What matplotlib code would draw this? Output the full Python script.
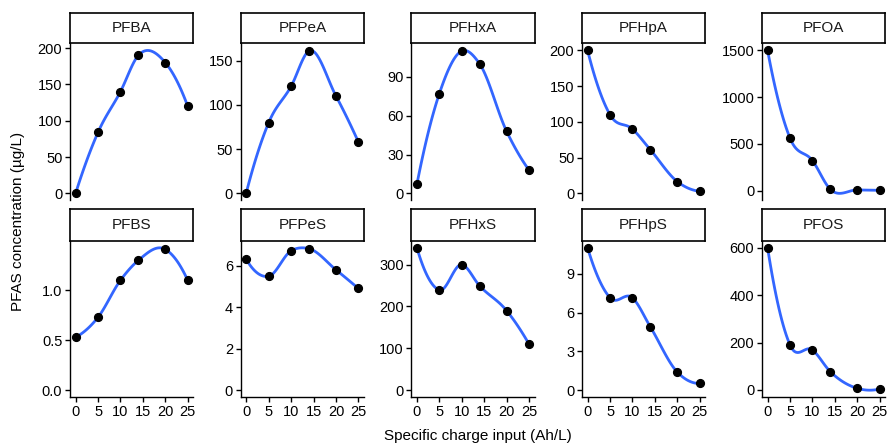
import matplotlib
matplotlib.use("Agg")
import matplotlib.pyplot as plt
import numpy as np

plt.rcParams['font.family'] = ['Liberation Sans', 'DejaVu Sans']

# charge input (Ah/L), same for every compound
charge = [0, 5, 10, 14, 20, 25]

compounds = ["PFBA", "PFPeA", "PFHxA", "PFHpA", "PFOA",
             "PFBS", "PFPeS", "PFHxS", "PFHpS", "PFOS"]

pfba = [0, 84, 140, 190, 180, 120]
pfpea = [0.8, 80, 121, 161, 110, 58]
pfhxa = [7, 77, 110, 100, 48, 18]
pfhpa = [200, 110, 90, 61, 16.5, 3]
pfoa = [1500, 562, 322, 14, 8, 4]
pfbs = [0.53, 0.73, 1.1, 1.3, 1.41, 1.1]
pfpes = [6.31, 5.5, 6.73, 6.83, 5.81, 4.91]
pfhxs = [340, 239, 300, 249, 190, 110]
pfhps = [11.0, 7.14, 7.14, 4.89, 1.4, 0.52]
pfos = [600, 190, 169, 77, 7, 4]

series = [pfba, pfpea, pfhxa, pfhpa, pfoa, pfbs, pfpes, pfhxs, pfhps, pfos]

yticks = [[0, 50, 100, 150, 200], [0, 50, 100, 150], [0, 30, 60, 90],
          [0, 50, 100, 150, 200], [0, 500, 1000, 1500],
          [0.0, 0.5, 1.0], [0, 2, 4, 6], [0, 100, 200, 300],
          [0, 3, 6, 9], [0, 200, 400, 600]]


def local_fit(x, y, x0, span=0.75):
    # weighted local quadratic, tricube weights -> value and slope at x0
    n = len(x)
    q = int(np.floor(n * span))
    d = np.abs(x - x0)
    h = np.sort(d)[q - 1] * 1.0001
    w = np.clip(1 - (d / h) ** 3, 0, None) ** 3
    A = np.vstack([np.ones(n), x - x0, (x - x0) ** 2]).T
    Wm = np.diag(w)
    beta = np.linalg.lstsq(A.T @ Wm @ A, A.T @ Wm @ y, rcond=None)[0]
    return beta[0], beta[1]


def loess(x, y, xs):
    # fit at the vertices, then cubic hermite in between (like loess "interpolate")
    x = np.asarray(x, float)
    y = np.asarray(y, float)
    vx = x.copy()
    vals = np.array([local_fit(x, y, v) for v in vx])
    out = []
    for t in xs:
        k = min(np.searchsorted(vx, t, side='right') - 1, len(vx) - 2)
        x0, x1 = vx[k], vx[k + 1]
        hh = x1 - x0
        s = (t - x0) / hh
        h00 = 2 * s**3 - 3 * s**2 + 1
        h10 = s**3 - 2 * s**2 + s
        h01 = -2 * s**3 + 3 * s**2
        h11 = s**3 - s**2
        out.append(h00 * vals[k, 0] + h10 * hh * vals[k, 1]
                   + h01 * vals[k + 1, 0] + h11 * hh * vals[k + 1, 1])
    return np.array(out)


W, H = 891, 444
fig = plt.figure(figsize=(W / 100, H / 100), dpi=100)

lefts = [70, 240.7, 411.3, 582, 762]
pw = 123.3
rows = [(12.7, 43.3, 200.5), (209.3, 240.7, 397.3)]  # strip top, panel top, panel bottom

xs = np.linspace(0, 25, 80)

for i, name in enumerate(compounds):
    r, c = divmod(i, 5)
    st, pt, pb = rows[r]
    L = lefts[c]
    ax = fig.add_axes([L / W, 1 - pb / H, pw / W, (pb - pt) / H])
    sax = fig.add_axes([L / W, 1 - pt / H, pw / W, (pt - st) / H])

    y = series[i]
    fit = loess(charge, y, xs)
    ax.plot(xs, fit, color='#3366FF', lw=2.0, zorder=2, clip_on=False)
    ax.plot(charge, y, 'o', color='black', ms=5.6, zorder=3, clip_on=False)

    lo = min(0, fit.min(), min(y))
    hi = max(fit.max(), max(y))
    pad = (hi - lo) * 0.05
    ax.set_ylim(lo - pad, hi + pad)
    ax.set_xlim(-1.25, 26.25)
    ax.set_yticks(yticks[i])
    if name == "PFBS":
        ax.set_yticklabels(['%.1f' % t for t in yticks[i]])
    else:
        ax.set_yticklabels(['%g' % t for t in yticks[i]])
    ax.set_xticks([0, 5, 10, 15, 20, 25])
    for s in ['top', 'right']:
        ax.spines[s].set_visible(False)
    for s in ['left', 'bottom']:
        ax.spines[s].set_linewidth(1.0)
    ax.tick_params(labelsize=10.5, length=3.5, width=1.0, pad=2, colors='black')
    if r == 0:
        # x axis only drawn under the bottom row
        ax.spines['bottom'].set_visible(False)
        ax.set_xticks([])

    sax.set_xticks([])
    sax.set_yticks([])
    for s in sax.spines.values():
        s.set_linewidth(1.2)
    sax.text(0.5, 0.5, name, ha='center', va='center', fontsize=11,
             color='#1a1a1a', transform=sax.transAxes)

fig.text(478 / W, 1 - 436 / H, "Specific charge input (Ah/L)", ha='center',
         va='center', fontsize=11)
fig.text(18 / W, 1 - 221 / H, "PFAS concentration (\u00b5g/L)", ha='center',
         va='center', rotation=90, fontsize=11)

fig.savefig("out.png", dpi=100)
